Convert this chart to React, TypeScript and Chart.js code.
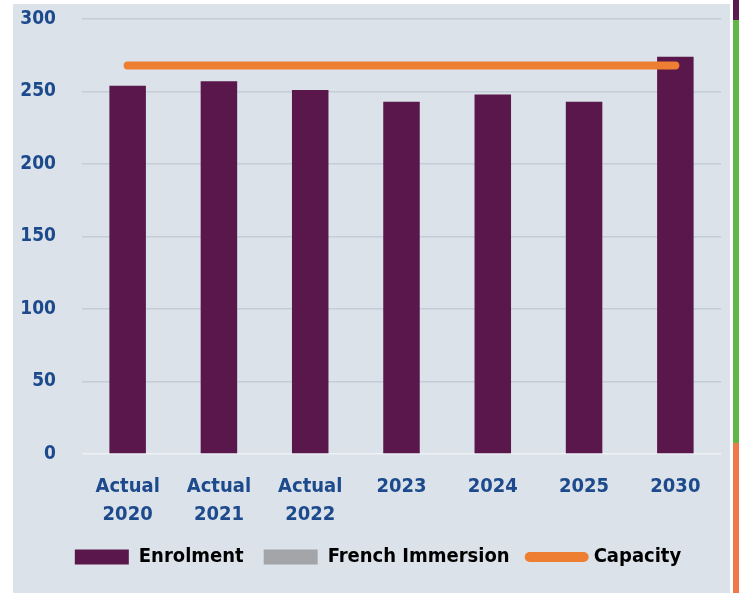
import { useEffect, useRef } from 'react';
import { Chart, registerables } from 'chart.js';

Chart.register(...registerables);

const categories: (string | string[])[] = [
  ['Actual', '2020'],
  ['Actual', '2021'],
  ['Actual', '2022'],
  '2023',
  '2024',
  '2025',
  '2030',
];
const enrolment = [254, 257, 251, 243, 248, 243, 274];
const frenchImmersion = [0, 0, 0, 0, 0, 0, 0];
const capacity = [268, 268, 268, 268, 268, 268, 268];
const yTicks = [0, 50, 100, 150, 200, 250, 300];
const seriesNames = ['Enrolment', 'French Immersion', 'Capacity'];

const FONT = '"DejaVu Sans Condensed", "DejaVu Sans", sans-serif';
const PURPLE = '#5a174b';
const GRAY = '#a3a5a8';
const ORANGE = '#ee7e32';
const BLUE = '#1d4a8c';

const legendShift = {
  id: 'legendShift',
  afterLayout(chart: any) {
    if (chart.legend) {
      chart.legend.left += 11;
      chart.legend.right += 11;
    }
  },
};

export default function App() {
  const ref = useRef<HTMLCanvasElement | null>(null);

  useEffect(() => {
    if (!ref.current) return;
    const chart = new Chart(ref.current, {
      type: 'bar',
      data: {
        labels: categories as any,
        datasets: [
          {
            type: 'line',
            label: seriesNames[2],
            data: capacity,
            borderColor: ORANGE,
            backgroundColor: ORANGE,
            borderWidth: 8,
            borderCapStyle: 'round',
            pointRadius: 0,
            order: 0,
          } as any,
          {
            type: 'bar',
            label: seriesNames[0],
            data: enrolment,
            backgroundColor: PURPLE,
            grouped: false,
            barPercentage: 0.4,
            categoryPercentage: 1.0,
            order: 1,
          },
          {
            type: 'bar',
            label: seriesNames[1],
            data: frenchImmersion,
            backgroundColor: GRAY,
            grouped: false,
            barPercentage: 0.4,
            categoryPercentage: 1.0,
            order: 2,
          },
        ],
      },
      plugins: [legendShift],
      options: {
        animation: false,
        responsive: false,
        maintainAspectRatio: false,
        layout: { padding: { left: 0, right: 9, top: 15, bottom: 16 } },
        scales: {
          x: {
            grid: { display: false, drawTicks: false },
            border: { display: false },
            ticks: {
              color: BLUE,
              font: { family: FONT, size: 20, weight: 'bold', lineHeight: 1.4 },
              padding: 19,
              maxRotation: 0,
              autoSkip: false,
            },
            afterFit: (s: any) => {
              s.height = 73;
            },
          },
          y: {
            min: 0,
            max: 300,
            afterBuildTicks: (s: any) => {
              s.ticks = yTicks.map((v) => ({ value: v }));
            },
            grid: {
              color: (ctx: any) => (ctx.tick && ctx.tick.value === 0 ? '#eef2f5' : '#c4cdd7'),
              lineWidth: 1.5,
              drawTicks: false,
            },
            border: { display: false },
            ticks: {
              color: BLUE,
              font: { family: FONT, size: 19, weight: 'bold' },
              padding: 26,
            },
            afterFit: (s: any) => {
              s.width = 69;
              s.paddingTop = 11;
              s.paddingBottom = 11;
            },
          },
        },
        plugins: {
          tooltip: { enabled: false },
          legend: {
            position: 'bottom',
            labels: {
              usePointStyle: true,
              pointStyleWidth: 54,
              boxWidth: 54,
              boxHeight: 15,
              padding: 20,
              color: '#000000',
              font: { family: FONT, size: 20, weight: 'bold' },
              generateLabels: () => [
                {
                  text: seriesNames[0],
                  fillStyle: PURPLE,
                  strokeStyle: PURPLE,
                  lineWidth: 0,
                  pointStyle: 'rect',
                  datasetIndex: 1,
                  hidden: false,
                  fontColor: '#000000',
                },
                {
                  text: seriesNames[1],
                  fillStyle: GRAY,
                  strokeStyle: GRAY,
                  lineWidth: 0,
                  pointStyle: 'rect',
                  datasetIndex: 2,
                  hidden: false,
                  fontColor: '#000000',
                },
                {
                  text: seriesNames[2],
                  fillStyle: ORANGE,
                  strokeStyle: ORANGE,
                  lineWidth: 10,
                  lineCap: 'round',
                  pointStyle: 'line',
                  datasetIndex: 0,
                  hidden: false,
                  fontColor: '#000000',
                },
              ] as any,
            },
          },
        },
      } as any,
    });
    return () => chart.destroy();
  }, []);

  return (
    <div style={{ position: 'absolute', left: 0, top: 0, width: 739, height: 593, background: '#ffffff', overflow: 'hidden' }}>
      <div style={{ position: 'absolute', left: 13, top: 4, width: 717, height: 589, background: '#dbe2e9' }}>
        <canvas ref={ref} width={717} height={589} style={{ display: 'block', width: 717, height: 589 }} />
      </div>
      <div style={{ position: 'absolute', left: 733, top: 0, width: 6, height: 20, background: '#5b1a4e' }} />
      <div style={{ position: 'absolute', left: 733, top: 20, width: 6, height: 423, background: '#5eb746' }} />
      <div style={{ position: 'absolute', left: 733, top: 443, width: 6, height: 150, background: '#f07846' }} />
    </div>
  );
}
